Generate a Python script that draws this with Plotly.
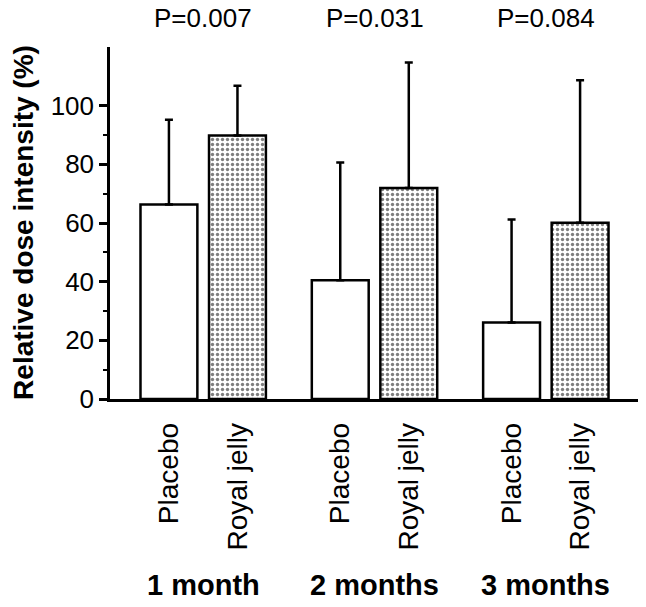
import plotly.graph_objects as go

months = ["1 month", "2 months", "3 months"]
groups = ["Placebo", "Royal jelly"]
p_values = ["P=0.007", "P=0.031", "P=0.084"]
placebo_mean = [66.3, 40.5, 26.1]
placebo_sd = [28.9, 40.1, 35.1]
rj_mean = [89.8, 71.9, 60.1]
rj_sd = [17.0, 42.8, 48.6]
y_ticks = [0, 20, 40, 60, 80, 100]
y_minor = [10, 30, 50, 70, 90]

GAP = 2.5
x_pl = [g * GAP for g in range(len(months))]
x_rj = [g * GAP + 1 for g in range(len(months))]
centers = [g * GAP + 0.5 for g in range(len(months))]

FONT = "Liberation Sans, Arial, Helvetica, sans-serif"

fig = go.Figure()
fig.add_trace(go.Bar(
    x=x_pl, y=placebo_mean, width=0.83,
    marker=dict(color="white", line=dict(color="black", width=2.5)),
    error_y=dict(type="data", symmetric=False, array=placebo_sd,
                 arrayminus=[0] * 3, color="black", thickness=2.5, width=4),
    showlegend=False, hoverinfo="skip"))
fig.add_trace(go.Bar(
    x=x_rj, y=rj_mean, width=0.83,
    marker=dict(color="white", line=dict(color="black", width=2.5),
                pattern=dict(shape=".", fgcolor="black", bgcolor="white",
                             size=5, solidity=0.36, fillmode="overlay")),
    error_y=dict(type="data", symmetric=False, array=rj_sd,
                 arrayminus=[0] * 3, color="black", thickness=2.5, width=4),
    showlegend=False, hoverinfo="skip"))

for c, p in zip(centers, p_values):
    fig.add_annotation(x=c, xref="x", y=1.082, yref="paper", text=p,
                       showarrow=False, xanchor="center", yanchor="middle",
                       font=dict(size=26, color="black", family=FONT))
for c, m in zip(centers, months):
    fig.add_annotation(x=c, xref="x", y=-0.528, yref="paper", text="<b>%s</b>" % m,
                       showarrow=False, xanchor="center", yanchor="middle",
                       font=dict(size=29, color="black", family=FONT))

fig.add_annotation(x=-0.163, xref="paper", y=0.503, yref="paper",
                   text="<b>Relative dose intensity (%)</b>", textangle=-90,
                   showarrow=False, xanchor="center", yanchor="middle",
                   font=dict(size=28, color="black", family=FONT))

tick_x = []
tick_t = []
for g in range(len(months)):
    tick_x += [x_pl[g], x_rj[g]]
    tick_t += groups

fig.update_layout(
    width=646, height=607,
    margin=dict(l=110, r=8, t=47, b=208),
    plot_bgcolor="white", paper_bgcolor="white",
    barmode="overlay",
    font=dict(family=FONT, color="black"),
)
fig.update_xaxes(range=[-0.86, 6.845], tickmode="array", tickvals=tick_x, ticktext=tick_t,
                 tickangle=-90, ticks="", showline=True, linecolor="black", linewidth=2.5,
                 showgrid=False, zeroline=False, ticklabelstandoff=10,
                 tickfont=dict(size=28, family=FONT, color="black"))
fig.update_yaxes(range=[0, 120], tickmode="array", tickvals=y_ticks,
                 ticks="outside", ticklen=8, tickwidth=2.5, tickcolor="black",
                 showline=True, linecolor="black", linewidth=2.5,
                 showgrid=False, zeroline=False,
                 minor=dict(tickmode="array", tickvals=y_minor, ticks="outside",
                            ticklen=4, tickwidth=2, tickcolor="black", showgrid=False),
                 tickfont=dict(size=26, family=FONT, color="black"))

fig.write_html("out.html", config={"displayModeBar": False},
               post_script="document.body.style.margin='0';")
